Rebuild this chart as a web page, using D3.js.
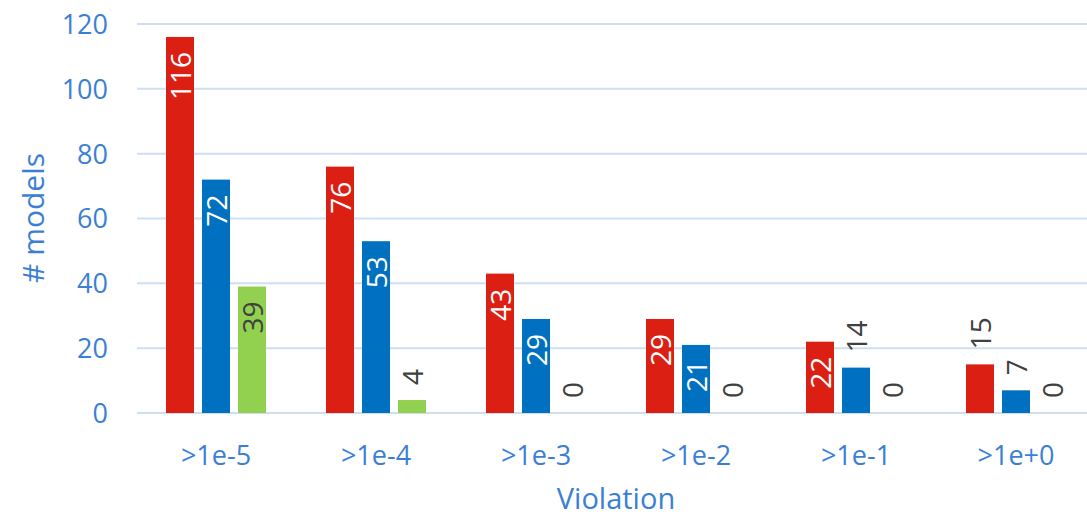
<!DOCTYPE html>
<html>
<head>
<meta charset="utf-8">
<script src="https://cdn.jsdelivr.net/npm/d3@7"></script>
<style>
  html, body { margin: 0; padding: 0; background: #fff; }
  svg { display: block; font-family: "Open Sans", "Noto Sans", sans-serif; }
</style>
</head>
<body>
<svg id="chart" width="1087" height="518"></svg>
<script>
// Violation thresholds and model counts for the three series
const categories = [">1e-5", ">1e-4", ">1e-3", ">1e-2", ">1e-1", ">1e+0"];
const seriesNames = ["A", "B", "C"];
const seriesA = [116, 76, 43, 29, 22, 15];
const seriesB = [72, 53, 29, 21, 14, 7];
const seriesC = [39, 4, 0, 0, 0, 0];
const yTicks = [0, 20, 40, 60, 80, 100, 120];
const seriesColors = ["#dc1f13", "#0070c0", "#92d050"];
const insideLabelColors = ["#ffffff", "#ffffff", "#404040"];

const values = [seriesA, seriesB, seriesC];
const rows = categories.map((c, i) => ({
  category: c,
  bars: seriesNames.map((s, k) => ({ series: k, value: values[k][i] }))
}));

const svg = d3.select("#chart");
const textBlue = "#3a7fd6";
const gridColor = "#cfdff1";

const x0 = d3.scaleBand().domain(categories).range([136, 1096]).paddingInner(0).paddingOuter(0);
const x1 = d3.scaleBand().domain(d3.range(seriesNames.length))
  .range([30, 130]).paddingInner(8 / 36).paddingOuter(0);
const y = d3.scaleLinear().domain([0, 120]).range([413, 24]);

// horizontal gridlines
svg.append("g").selectAll("line").data(yTicks).join("line")
  .attr("x1", 137).attr("x2", 1096)
  .attr("y1", d => y(d)).attr("y2", d => y(d))
  .attr("stroke", gridColor).attr("stroke-width", 2);

// y axis tick labels
const yAxis = d3.axisLeft(y).tickValues(yTicks).tickSize(0).tickPadding(0);
const yg = svg.append("g").attr("transform", "translate(108,0)").call(yAxis);
yg.select(".domain").remove();
yg.selectAll("text").attr("fill", textBlue).attr("font-size", 27)
  .attr("font-family", "Open Sans, sans-serif").attr("dy", "0.35em");

// x axis category labels
const xAxis = d3.axisBottom(x0).tickSize(0).tickPadding(0);
const xg = svg.append("g").attr("transform", "translate(0,456)").call(xAxis);
xg.select(".domain").remove();
xg.selectAll("text").attr("fill", textBlue).attr("font-size", 27)
  .attr("font-family", "Open Sans, sans-serif").attr("dy", "0.35em");

// bars
const groups = svg.append("g").selectAll("g").data(rows).join("g")
  .attr("transform", d => `translate(${x0(d.category)},0)`);

groups.selectAll("rect").data(d => d.bars).join("rect")
  .attr("x", d => x1(d.series))
  .attr("width", x1.bandwidth())
  .attr("y", d => y(d.value))
  .attr("height", d => y(0) - y(d.value))
  .attr("fill", d => seriesColors[d.series]);

// value labels, rotated; inside the bar end when they fit, otherwise above it
const gap = 15;
groups.selectAll("text.val").data(d => d.bars).join("text")
  .attr("class", "val")
  .attr("font-size", 28)
  .attr("dominant-baseline", "central")
  .text(d => d.value)
  .each(function (d) {
    const el = d3.select(this);
    const len = this.getComputedTextLength();
    const h = y(0) - y(d.value);
    const cx = x1(d.series) + x1.bandwidth() / 2;
    const inside = len + 2 * gap <= h;
    const ty = y(d.value);
    el.attr("transform", `translate(${cx},${ty}) rotate(-90)`)
      .attr("text-anchor", inside ? "end" : "start")
      .attr("x", inside ? -gap : gap)
      .attr("y", 0)
      .attr("fill", inside ? insideLabelColors[d.series] : "#404040");
  });

// axis titles
svg.append("text")
  .attr("transform", "translate(32,218) rotate(-90)")
  .attr("text-anchor", "middle").attr("dominant-baseline", "central")
  .attr("font-size", 30).attr("fill", textBlue)
  .text("# models");

svg.append("text")
  .attr("x", 616).attr("y", 509)
  .attr("text-anchor", "middle")
  .attr("font-size", 29).attr("fill", textBlue)
  .text("Violation");
</script>
</body>
</html>
